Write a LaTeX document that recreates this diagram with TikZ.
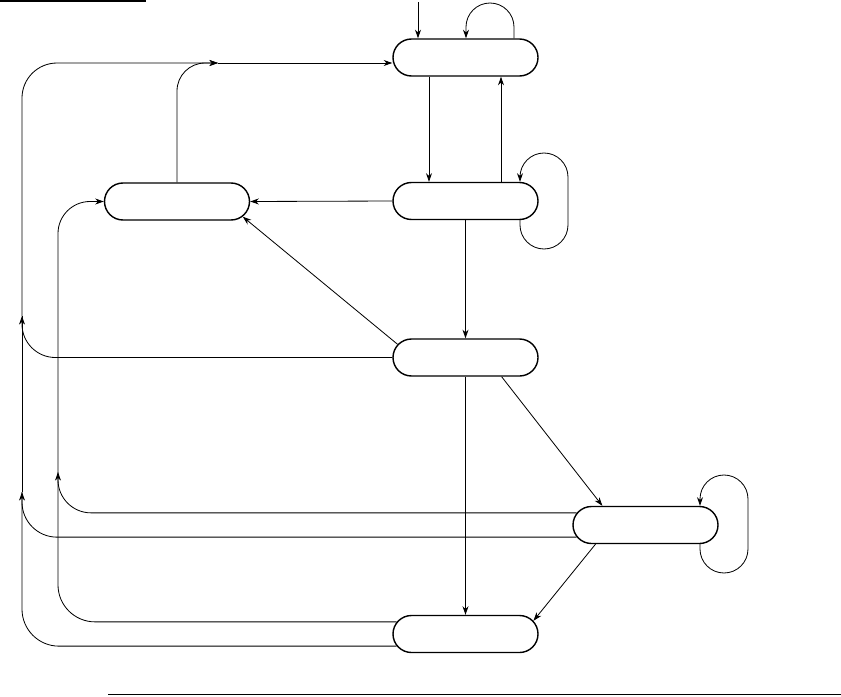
\documentclass[tikz,border=0pt]{standalone}
\usepackage{tikz}
\usetikzlibrary{shapes.misc, arrows.meta, calc}
\tikzset{
  state/.style={
    rounded rectangle, draw, line width=1.2pt, minimum width=4.35cm,
    minimum height=1.11cm, inner sep=0pt
  },
  flow/.style={
    -{Stealth[length=2.6mm, width=1.8mm]}, line width=0.7pt
  },
  wire/.style={
    line width=0.7pt
  }
}
\begin{document}
\begin{tikzpicture}[x=0.03cm, y=-0.03cm]
  \useasboundingbox (0,0) rectangle (841,696);

  % Rules
  \draw[line width=1.4pt] (0,0.8) -- (146,0.8);
  \draw[line width=0.9pt] (108,694.5) -- (841,694.5);

  % States
  \node[state] (n1) at (465.5,57.5) {};
  \node[state] (n2) at (465.5,201) {};
  \node[state] (n3) at (177,201.5) {};
  \node[state] (n4) at (465.5,357.5) {};
  \node[state] (n5) at (645.5,525) {};
  \node[state] (n6) at (465.5,634) {};

  % Bend points on the left rails
  \coordinate (start) at (418,2);
  \coordinate (m1) at (218,63);
  \coordinate (a5) at (22,492);
  \coordinate (a4) at (22,316);
  \coordinate (b5) at (58,472);

  % Entry and self loops
  \draw[flow] (start) -- (n1.north -| start);
  \draw[flow, rounded corners=0.72cm]
    (n1.north -| 514,0) -- (514,3) -- (466,3) -- (n1.north -| 466,0);
  \draw[flow, rounded corners=0.72cm]
    (n2.south -| 520,0) -- (520,249) -- (568,249) -- (568,153) -- (520,153)
    -- (n2.north -| 520,0);
  \draw[flow, rounded corners=0.72cm]
    (n5.south -| 700,0) -- (700,573) -- (748,573) -- (748,475) -- (700,475)
    -- (n5.north -| 700,0);

  % Main column
  \draw[flow] (n1.south -| 429,0) -- (n2.north -| 429,0);
  \draw[flow] (n2.north -| 501,0) -- (n1.south -| 501,0);
  \draw[flow] (n2.west) -- (n3.east);
  \draw[flow] (n2.south) -- (n4.north);
  \draw[flow] (n4.169) -- (n3.-13);
  \draw[flow] (n4.south) -- (n6.north);
  \draw[flow] (n4.-28) -- (n5.156);
  \draw[flow] (n5.201) -- (n6.11);

  % Back to the first state
  \draw[flow, rounded corners=0.84cm] (n3.north) |- (m1);
  \draw[flow] (m1) -- (n1.west |- m1);
  \draw[wire, rounded corners=1.11cm] (n6.190) -| (a5);
  \draw[flow, rounded corners=1.05cm] (n5.190) -| (a5);
  \draw[wire] (a5) -- (a4);
  \draw[flow, rounded corners=1cm] (n4.west) -| (a4);
  \draw[flow, rounded corners=1.05cm] (a4) |- (m1);

  % Back to the left state
  \draw[wire, rounded corners=1.11cm] (n6.170) -| (b5);
  \draw[flow, rounded corners=0.99cm] (n5.170) -| (b5);
  \draw[flow, rounded corners=0.96cm] (b5) |- (n3.west);

\end{tikzpicture}
\end{document}
